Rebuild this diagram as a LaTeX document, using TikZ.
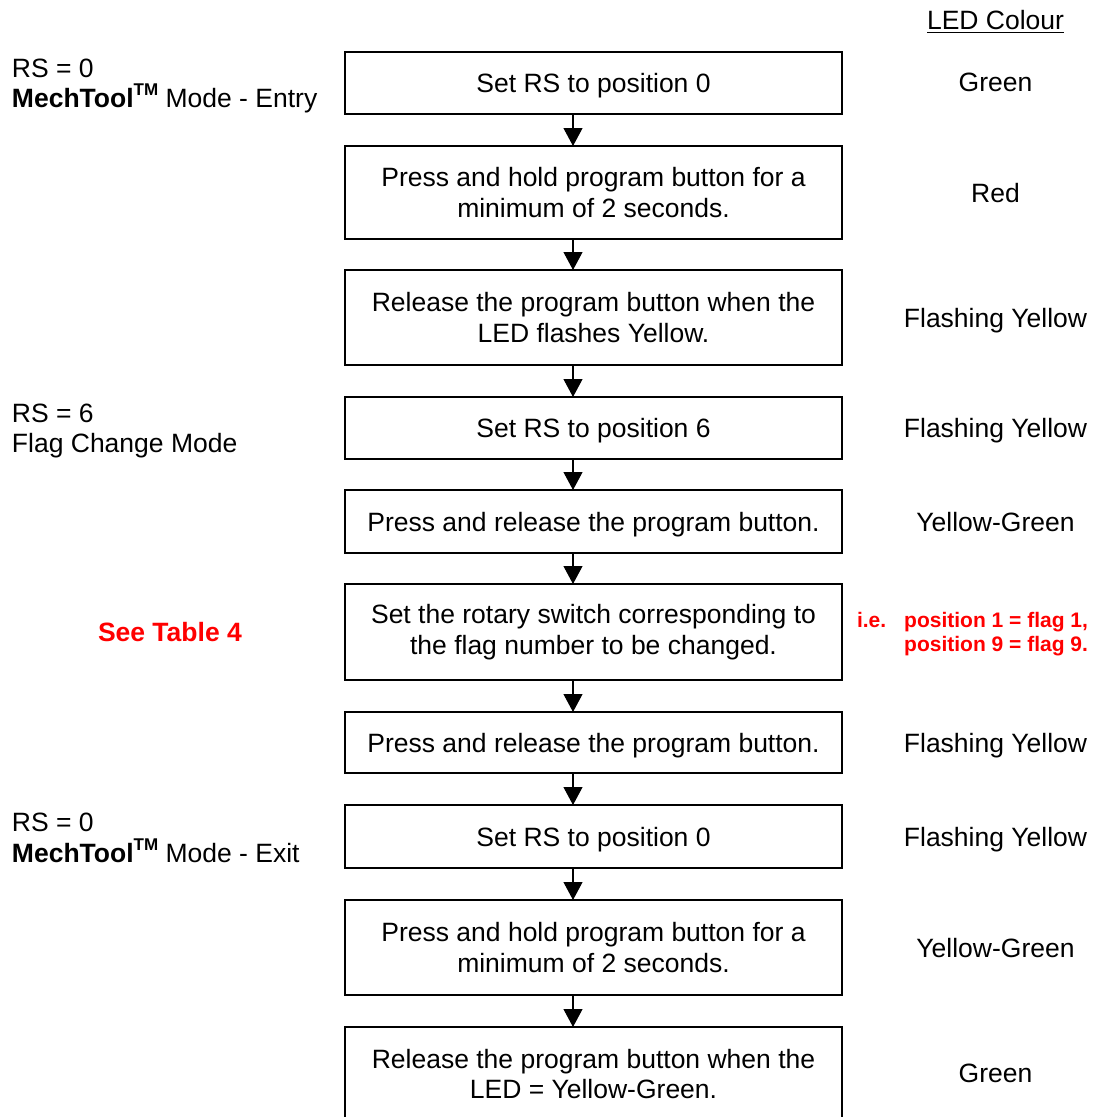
\documentclass[tikz,border=0pt]{standalone}
\usepackage{fontspec}
\setmainfont{Liberation Sans}
\usetikzlibrary{arrows.meta}
\newcommand{\tmark}{\raisebox{12pt}{\fontsize{17}{17}\selectfont\bfseries TM}}
\begin{document}
\begin{tikzpicture}[x=1pt,y=-1pt,
  every node/.style={inner sep=0pt, outer sep=0pt, font=\fontsize{26.5}{30.5}\selectfont},
  stepbox/.style={draw, line width=1.6pt, minimum width=497pt, align=center},
  onebox/.style={stepbox, text height=19pt, text depth=0pt},
  flow/.style={line width=1.1pt, -{Triangle[width=19pt,length=18pt]}},
  ledlabel/.style={anchor=base},
  side/.style={anchor=base west, align=left},
  note/.style={text=red, font=\fontsize{21}{24}\selectfont\bfseries}
]
\useasboundingbox (0,0) rectangle (1095,1117);

% flow boxes
\node[onebox, minimum height=62pt] (b1) at (593.5,83) {Set RS to position 0};
\node[stepbox, minimum height=93pt] (b2) at (593.5,192.5) {Press and hold program button for a\\minimum of 2 seconds.};
\node[stepbox, minimum height=95pt] (b3) at (593.5,317.5) {Release the program button when the\\LED flashes Yellow.};
\node[onebox, minimum height=62pt] (b4) at (593.5,428) {Set RS to position 6};
\node[onebox, minimum height=63pt] (b5) at (593.5,521.5) {Press and release the program button.};
\node[stepbox, minimum height=96pt] (b6) at (593.5,632) {Set the rotary switch corresponding to\\the flag number to be changed.};
\node[onebox, minimum height=61pt] (b7) at (593.5,742.5) {Press and release the program button.};
\node[onebox, minimum height=63pt] (b8) at (593.5,836.5) {Set RS to position 0};
\node[stepbox, minimum height=95pt] (b9) at (593.5,947.5) {Press and hold program button for a\\minimum of 2 seconds.};
\node[stepbox, minimum height=94pt] (b10) at (593.5,1074) {Release the program button when the\\LED = Yellow-Green.};

% connectors
\coordinate (ax) at (573,0);
\foreach \a/\b in {b1/b2,b2/b3,b3/b4,b4/b5,b5/b6,b6/b7,b7/b8,b8/b9,b9/b10}
  \draw[flow] (\a.south -| ax) -- (\b.north -| ax);

% left labels (base = last line)
\node[side] (l1) at (12,107.5) {RS = 0\\\textbf{MechTool\tmark} Mode - Entry};
\node[side] (l2) at (12,452.5) {RS = 6\\Flag Change Mode};
\node[side, text=red, font=\fontsize{26.5}{30.5}\selectfont\bfseries] (l3) at (98,641) {See Table 4};
\node[side] (l4) at (12,862) {RS = 0\\\textbf{MechTool\tmark} Mode - Exit};

% LED colour column
\node[ledlabel] (hdr) at (995.5,29) {LED Colour};
\draw[line width=1.5pt] ([yshift=-3.5pt]hdr.base west) -- ([yshift=-3.5pt]hdr.base east);
\node[ledlabel] (r1) at (995.5,91.5) {Green};
\node[ledlabel] (r2) at (995.5,202) {Red};
\node[ledlabel] (r3) at (995.5,327) {Flashing Yellow};
\node[ledlabel] (r4) at (995.5,437.5) {Flashing Yellow};
\node[ledlabel] (r5) at (995.5,531) {Yellow-Green};
\node[note, anchor=base west] (r6) at (857,627) {\begin{tabular}[t]{@{}l@{\hspace{18pt}}l@{}}i.e. & position 1 = flag 1,\\ & position 9 = flag 9.\end{tabular}};
\node[ledlabel] (r7) at (995.5,752) {Flashing Yellow};
\node[ledlabel] (r8) at (995.5,846) {Flashing Yellow};
\node[ledlabel] (r9) at (995.5,957) {Yellow-Green};
\node[ledlabel] (r10) at (995.5,1082.5) {Green};
\end{tikzpicture}
\end{document}
